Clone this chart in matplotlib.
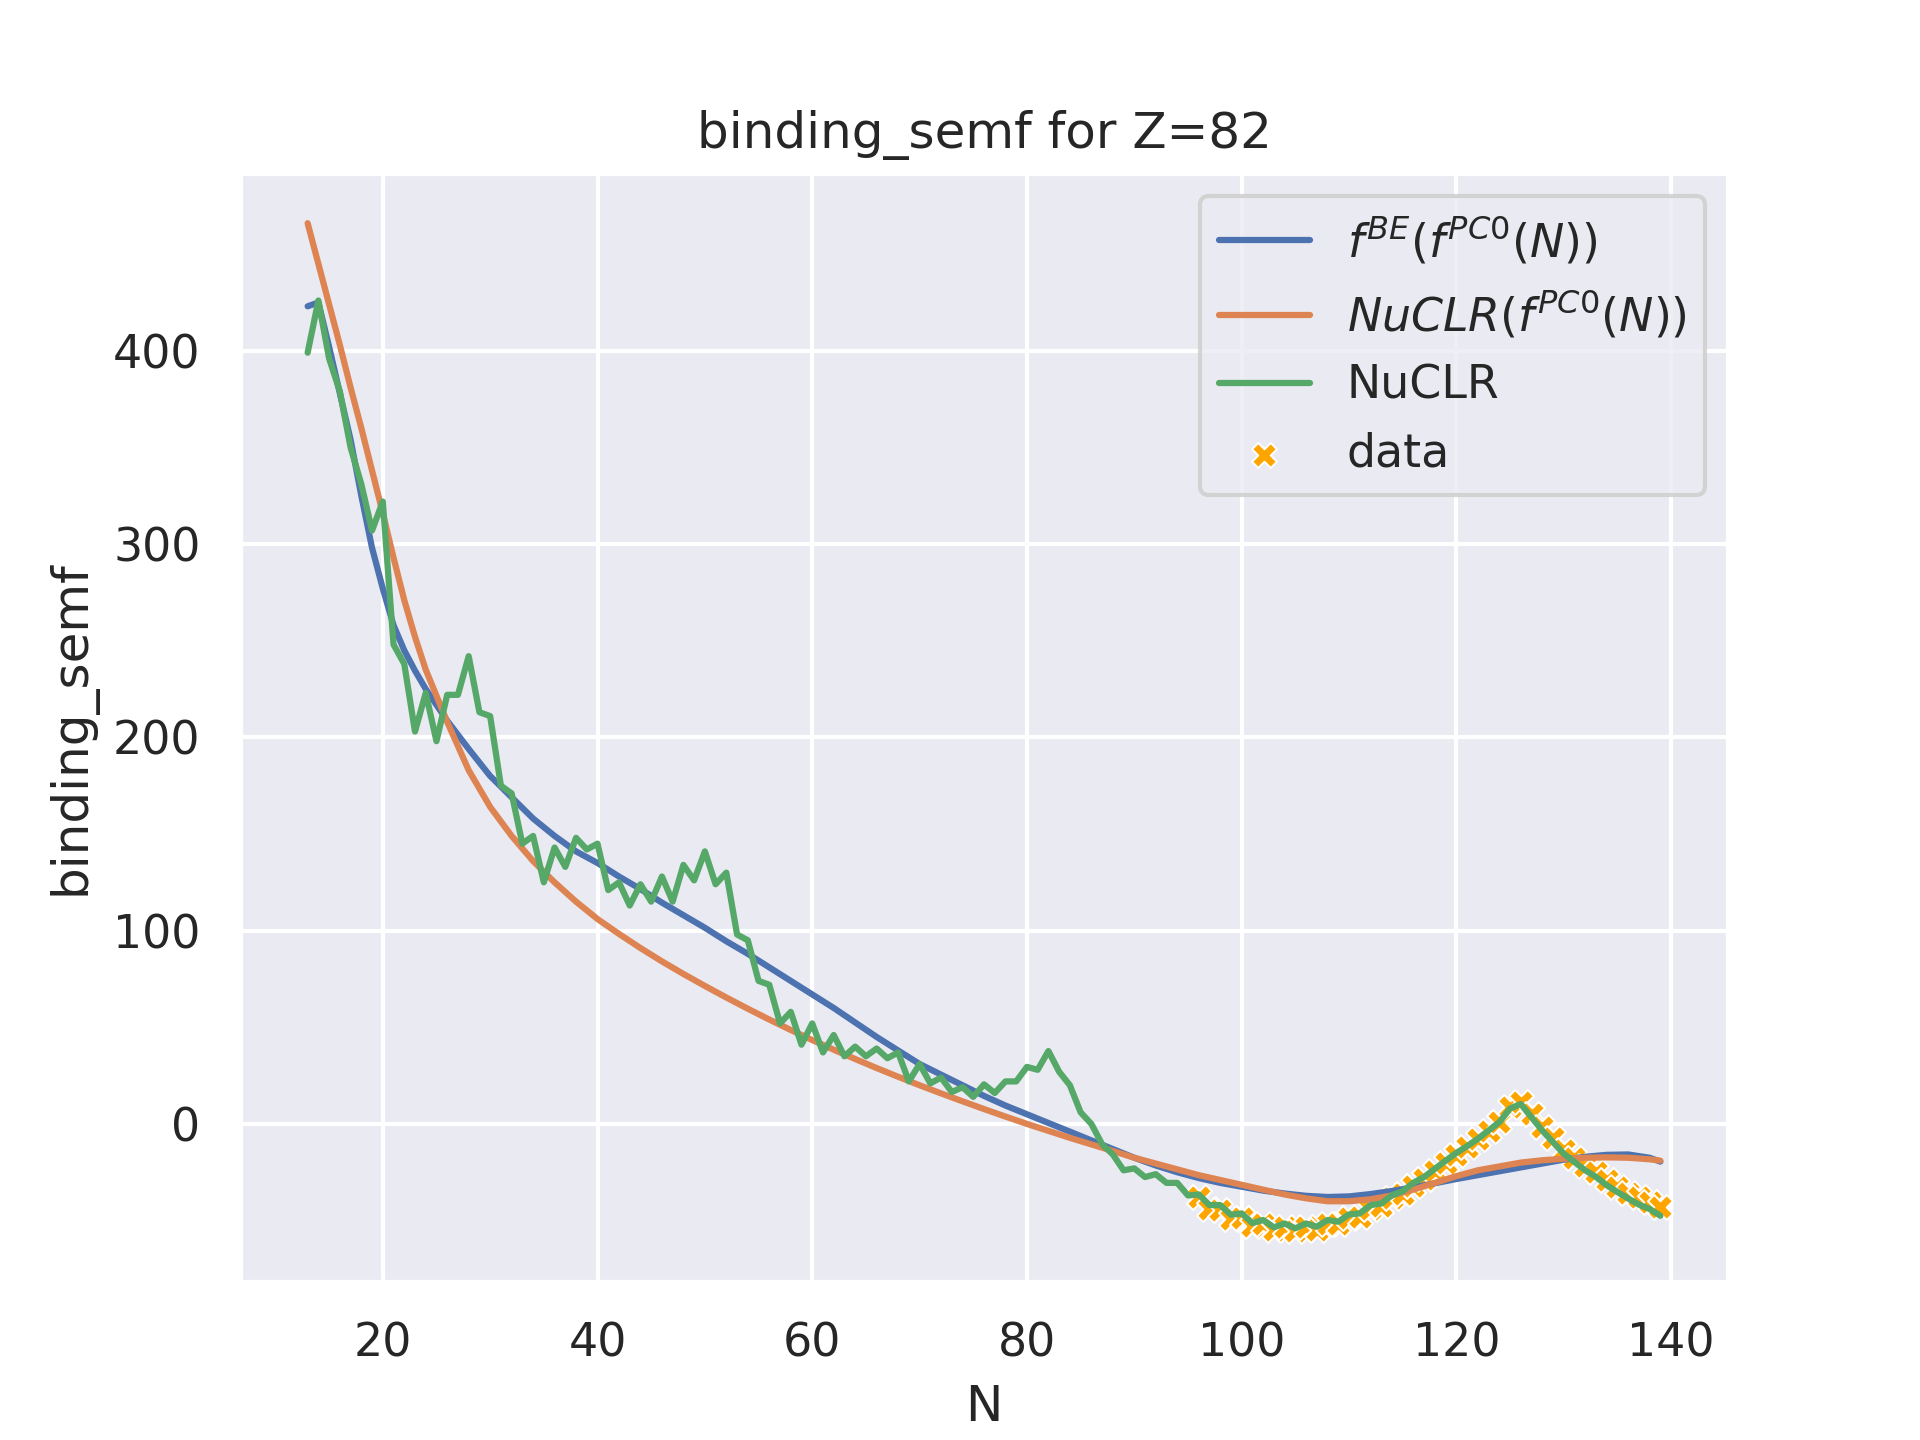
import matplotlib
matplotlib.use("Agg")
import matplotlib.pyplot as plt
import seaborn as sns

# ---- data ----
N_model = list(range(13, 25)) + list(range(26, 139, 2)) + [139]

be_pc0 = [423, 425, 402, 378, 354, 325, 298, 277, 258, 245, 234.5, 225,
          208.6, 194, 180, 169, 158, 149, 141, 135, 128, 121.5, 114.5, 108,
          101.5, 94.5, 88, 81, 74, 67, 60, 52.5, 45, 38, 31, 25.5, 20, 14.5,
          9.5, 5, 0.5, -4, -8.5, -13, -17.5, -21.5, -25, -28, -30.5, -32.5,
          -34.5, -36, -37.2, -37.8, -37.5, -36.3, -34.7, -32.8, -30.7,
          -28.5, -26.5, -24.5, -22.5, -20.5, -18.5, -17, -16, -15.8, -17.5,
          -19.5]

nuclr_pc0 = [466, 445, 424, 403, 381, 360, 338, 316, 293, 271, 252, 235,
             208, 183, 164, 149, 136, 125, 115, 106, 98.3, 91, 84.1, 77.6,
             71.4, 65.4, 59.6, 54, 48.6, 43.4, 38.4, 33.6, 28.9, 24.4, 20,
             15.8, 11.7, 7.7, 3.8, 0, -3.6, -7.2, -10.6, -14, -17.5, -20.5,
             -23.5, -26.5, -29, -31.5, -34, -36.5, -38.5, -40, -40, -39,
             -37, -34, -30.5, -27, -24, -22, -20, -18.8, -18, -17.5, -17.3,
             -17.5, -18.3, -19]

N_nuclr = list(range(13, 140))
nuclr = [399, 426, 396, 379, 350, 331, 307, 322, 248, 238, 203, 223, 198,
         222, 222, 242, 213, 211, 175, 171, 145, 149, 125, 143, 133, 148,
         142, 145, 121, 125, 113, 124, 115, 128, 115, 134, 126, 141, 124,
         130, 98, 95, 74, 72, 52, 58, 41, 52, 37, 46, 35, 40, 35, 39, 34,
         37, 22, 31, 21, 24, 16.5, 19, 14, 20.5, 16, 22, 22, 29.5, 28,
         37.7, 27, 20, 6, 0, -10.5, -15.8, -24, -23, -27.5, -26, -30.5,
         -30.5, -37, -36.5, -42, -42, -47, -46.3, -51.3, -49.7, -53.5,
         -51.5, -54, -51.5, -53.2, -49.7, -50.6, -46.8, -46.3, -42, -41.2,
         -36.9, -34.8, -30.4, -27.4, -23.2, -19, -15, -11.5, -7.7, -3.4,
         0.9, 8, 10.3, 3.4, -3.4, -9.4, -15.4, -19.7, -24, -27.4, -31.7,
         -35.2, -38.6, -41.7, -44, -47.5]

N_data = list(range(96, 140))
data = [-38, -44, -44.5, -49, -48.5, -53, -52, -55, -53.5, -55.5, -53.5,
        -55, -52, -52, -48.5, -48, -44, -42.5, -38.5, -36, -32, -28.5,
        -24.5, -20, -16, -12, -8, -3.5, 1, 8.5, 11.5, 5, -1.5, -7.5, -13.5,
        -17.5, -22, -25, -29, -32.5, -35.5, -38, -40.5, -43]

# ---- plot ----
sns.set_theme()
fig, ax = plt.subplots(figsize=(6.4, 4.8), dpi=300)
ax.plot(N_model, be_pc0, label=r"$f^{BE}(f^{PC0}(N))$")
ax.plot(N_model, nuclr_pc0, label=r"$NuCLR(f^{PC0}(N))$")
ax.plot(N_nuclr, nuclr, label="NuCLR")
sns.scatterplot(x=N_data, y=data, marker="X", color="orange", label="data", ax=ax)
ax.set_title("binding_semf for Z=82")
ax.set_xlabel("N")
ax.set_ylabel("binding_semf")
ax.legend(loc="upper right")
fig.savefig("out.png", dpi=300)
